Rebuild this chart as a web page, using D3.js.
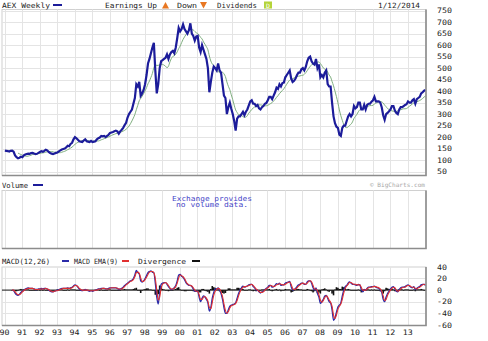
<!DOCTYPE html>
<html><head><meta charset="utf-8">
<script src="https://cdn.jsdelivr.net/npm/d3@7"></script>
<style>
body{margin:0;background:#fff}
svg{display:block}
text{font-family:"DejaVu Sans Mono",monospace;}
</style>
</head><body>
<svg id="c" width="488" height="341"></svg>
<script>
// ---------- data (monthly, Jan 1990 .. Jan 2014) ----------
const startYear = 1990;
const yearLabels = ["90","91","92","93","94","95","96","97","98","99","00","01","02","03","04","05","06","07","08","09","10","11","12","13"];
const priceTicks = [750,700,650,600,550,500,450,400,350,300,250,200,150,100,50];
const macdTicks = [40,20,0,-20,-40,-60];

const price = [
141,140,139,137,140,141,136,120,112,108,110,114,
112,120,124,126,128,127,130,131,128,126,127,131,
135,138,136,140,145,142,135,130,128,126,128,131,
133,138,142,146,148,150,155,162,160,170,175,190,
200,195,188,182,180,178,185,190,182,180,178,183,
178,180,182,190,195,198,205,203,205,200,205,210,
218,220,222,225,228,225,215,225,232,240,252,262,
285,300,310,320,345,370,430,420,440,380,390,405,
430,470,520,540,565,590,610,490,390,430,500,530,
535,540,545,560,540,560,570,575,565,590,630,675,
660,670,690,670,660,650,665,695,650,640,620,637,
640,590,570,600,580,560,540,500,395,440,480,507,
500,490,520,490,480,430,380,370,300,330,350,323,
300,270,228,280,290,290,300,310,295,310,320,338,
355,360,345,345,335,340,325,320,330,335,345,348,
360,375,375,365,380,395,415,410,430,420,435,437,
460,470,480,490,455,440,445,455,470,480,480,495,
500,490,505,530,545,550,530,520,515,540,500,516,
460,470,460,480,490,430,420,420,350,290,260,245,
240,210,205,240,250,250,270,290,300,290,300,335,
325,330,350,350,320,320,340,320,340,345,345,354,
360,375,355,355,355,350,330,295,275,300,305,312,
320,335,335,315,305,300,320,330,330,335,340,343,
355,350,350,360,365,345,365,370,375,390,395,402,
405];

const movingAvg = [
null,null,null,null,null,null,null,null,null,130,127,124,
121,119,117,116,117,119,121,124,125,127,127,128,
129,130,131,132,134,136,137,137,137,136,134,134,
133,132,132,134,136,138,141,145,148,152,156,162,
168,173,177,180,182,184,186,188,187,184,183,182,
182,182,182,183,183,185,188,190,193,195,198,201,
204,207,210,212,215,217,219,221,223,226,229,234,
240,248,258,270,283,298,319,338,358,368,378,389,
401,415,432,444,460,477,502,513,512,512,515,516,
516,513,508,502,508,527,542,551,554,561,571,585,
596,611,625,636,646,655,663,671,668,666,660,654,
651,643,634,627,614,604,593,580,553,531,518,511,
500,490,486,480,478,482,475,463,440,421,406,384,
363,339,318,307,298,297,294,289,286,287,293,304,
312,320,326,331,334,339,340,340,339,337,336,336,
338,342,346,350,357,364,373,380,389,396,403,410,
420,430,440,448,453,454,457,459,463,465,466,468,
469,473,480,489,499,508,514,518,521,525,526,527,
520,511,501,496,492,483,470,461,442,423,400,376,
349,318,293,273,254,243,241,244,251,256,266,281,
290,299,310,319,322,324,330,332,333,335,337,337,
338,344,348,350,354,355,353,348,339,332,324,320,
316,314,312,310,311,314,316,319,321,323,323,324,
329,334,339,344,348,349,353,356,359,363,368,374,
379];

const macd = [
null,null,null,null,null,0,-1,-5,-8,-9,-7,-4,
-2,0,2,3,4,3,3,3,2,1,1,2,
2,3,2,3,3,2,0,-2,-3,-3,-2,-1,
0,1,2,3,3,3,3,4,3,4,5,7,
9,8,5,2,0,-1,0,1,0,-1,-2,-1,
-2,-1,0,1,2,2,3,3,3,2,2,3,
4,4,4,4,4,3,1,2,3,5,8,10,
12,14,16,17,20,26,34,30,28,16,14,16,
20,25,30,32,33,31,30,12,-12,-24,-4,10,
12,13,13,10,6,3,1,2,4,8,16,26,
27,24,22,18,13,10,8,8,6,2,-2,-2,
-2,-12,-20,-14,-10,-12,-16,-22,-36,-30,-14,-4,
2,2,4,0,-6,-16,-30,-40,-40,-34,-28,-26,
-25,-24,-22,-14,-6,0,4,7,5,6,7,9,
10,10,6,4,0,0,-3,-5,-3,-2,1,3,
5,8,8,5,6,8,11,10,12,8,9,9,
12,13,14,15,6,0,1,3,6,9,10,12,
12,10,10,14,16,16,12,4,0,4,-6,-12,
-23,-20,-16,-10,-9,-14,-20,-22,-34,-52,-48,-38,
-29,-26,-22,-10,0,6,8,12,14,12,10,10,
9,8,10,9,1,-3,1,0,3,5,5,6,
6,7,5,4,3,0,-4,-16,-20,-12,-6,-2,
2,5,6,2,-2,-3,1,4,5,5,6,8,
9,7,5,4,6,1,3,5,6,9,10,10,
8];

const macdEma = [
null,null,null,null,null,0,0,-3,-6,-8,-8,-6,
-3,-1,1,2,3,3,3,3,2,1,1,1,
2,2,2,2,3,2,1,-1,-2,-3,-2,-1,
-1,0,1,2,3,3,3,3,3,3,4,6,
8,8,6,3,1,0,0,0,0,0,-1,-1,
-1,-1,0,0,1,2,2,3,3,2,2,2,
3,4,4,4,4,3,2,2,2,4,6,9,
11,13,15,16,18,23,30,31,29,21,15,15,
18,22,27,31,32,32,30,20,0,-17,-12,3,
10,12,13,11,8,4,2,2,3,6,12,21,
26,25,23,20,15,11,9,8,7,4,0,-2,
-2,-8,-16,-16,-12,-11,-14,-19,-30,-32,-21,-9,
-2,1,3,2,-3,-11,-24,-35,-40,-37,-31,-27,
-26,-25,-23,-18,-10,-3,2,5,6,6,7,8,
9,10,8,5,2,0,-2,-4,-4,-3,0,2,
4,6,8,7,6,7,9,10,11,10,9,9,
10,12,13,14,10,3,1,2,4,7,9,11,
12,11,10,12,15,16,14,8,2,2,-1,-8,
-17,-21,-18,-13,-10,-12,-17,-21,-28,-43,-49,-43,
-33,-28,-24,-16,-5,3,7,10,13,13,11,10,
10,9,9,9,5,0,0,0,2,4,5,5,
6,6,6,5,4,2,-2,-10,-18,-16,-9,-4,
0,3,5,4,0,-2,-1,2,4,5,5,7,
8,8,6,5,5,3,2,4,5,7,9,10,
9];

const divergence = [
null,null,null,null,null,0,-1,-2,-2,-1,1,2,
1,1,1,1,1,0,0,0,0,0,0,1,
0,1,0,1,0,0,-1,-1,-1,0,0,0,
1,1,1,1,0,0,0,1,0,1,1,1,
1,0,-1,-1,-1,-1,0,1,0,-1,-1,0,
-1,0,0,1,1,0,1,0,0,0,0,1,
1,0,0,0,0,0,-1,0,1,1,2,1,
1,1,1,1,2,3,4,-1,-1,-5,-1,1,
2,3,3,1,1,-1,0,-8,-12,-7,8,7,
2,1,0,-1,-2,-1,-1,0,1,2,4,5,
1,-1,-1,-2,-2,-1,-1,0,-1,-2,-2,0,
0,-4,-4,2,2,-1,-2,-3,-6,2,7,5,
4,1,1,-2,-3,-5,-6,-5,0,3,3,1,
1,1,1,4,4,3,2,2,-1,0,0,1,
1,0,-2,-1,-2,0,-1,-1,1,1,1,1,
1,2,0,-2,0,1,2,0,1,-2,0,0,
2,1,1,1,-4,-3,0,1,2,2,1,1,
0,-1,0,2,1,0,-2,-4,-2,2,-5,-4,
-6,1,2,3,1,-2,-3,-1,-6,-9,1,5,
4,2,2,6,5,3,1,2,1,-1,-1,0,
-1,-1,1,0,-4,-3,1,0,1,1,0,1,
0,1,-1,-1,-1,-2,-2,-6,-2,4,3,2,
2,2,1,-2,-2,-1,2,2,1,0,1,1,
1,-1,-1,-1,1,-2,1,1,1,2,1,0,
-1];

// ---------- layout ----------
const svg = d3.select("#c");
const L = 2, R = 426;
const x = d3.scaleLinear().domain([startYear, startYear + 24]).range([4.5, 425.2]);
const tOf = i => startYear + i / 12 + 0.02;

const main = {top: 9.5, bottom: 175.5};
const vol = {top: 190.5, bottom: 248.5};
const mac = {top: 267, bottom: 325.5};

const yP = d3.scaleLinear().domain([50, 750]).range([171.5, 10.7]);
const yM = d3.scaleLinear().domain([-60, 40]).range([324.9, 266.9]);

const gridCol = "#e4e4e4";
const navy = "#1c1c9a";

function panel(p, id) {
  svg.append("rect").attr("x", L).attr("y", p.top).attr("width", R - L).attr("height", p.bottom - p.top)
    .attr("fill", "#fff").attr("stroke", "#d0d0d0").attr("stroke-width", 1);
  svg.append("clipPath").attr("id", id).append("rect")
    .attr("x", L).attr("y", p.top).attr("width", R - L).attr("height", p.bottom - p.top);
  yearLabels.forEach((lab, k) => {
    const xx = Math.round(x(startYear + k)) + 0.5;
    if (xx > L + 1 && xx < R - 1)
      svg.append("line").attr("x1", xx).attr("x2", xx).attr("y1", p.top).attr("y2", p.bottom)
        .attr("stroke", gridCol).attr("stroke-width", 1);
  });
}
function frame(p) {
  svg.append("path").attr("d", `M${R},${p.top}V${p.bottom}H${L}`)
    .attr("fill", "none").attr("stroke", "#8c8c8c").attr("stroke-width", 1.6);
}

// ----- main panel -----
panel(main, "clipMain");
priceTicks.forEach(v => {
  const yy = Math.round(yP(v)) + 0.5;
  if (yy > main.top + 1 && yy < main.bottom - 1)
    svg.append("line").attr("x1", L).attr("x2", R).attr("y1", yy).attr("y2", yy)
      .attr("stroke", gridCol).attr("stroke-width", 1);
});
const gMain = svg.append("g").attr("clip-path", "url(#clipMain)");
gMain.append("path").datum(movingAvg)
  .attr("d", d3.line().defined(d => d != null).x((d, i) => x(tOf(i))).y(d => yP(d)).curve(d3.curveMonotoneX))
  .attr("fill", "none").attr("stroke", "#7fae7f").attr("stroke-width", 1);
gMain.append("path").datum(price)
  .attr("d", d3.line().x((d, i) => x(tOf(i))).y(d => yP(d)))
  .attr("fill", "none").attr("stroke", navy).attr("stroke-width", 2.2).attr("stroke-linejoin", "miter");
frame(main);
priceTicks.forEach(v => {
  svg.append("text").attr("x", 437).attr("y", yP(v)).attr("dy", "0.35em")
    .attr("font-size", 7.5).attr("fill", "#222").attr("textLength", String(v).length * 5)
    .attr("lengthAdjust", "spacingAndGlyphs").text(v);
});

// header
function txt(s, x0, y0, w, opt = {}) {
  const t = svg.append("text").attr("x", x0).attr("y", y0).attr("font-size", opt.size || 7.2)
    .attr("fill", opt.fill || "#222").text(s);
  if (w) t.attr("textLength", w).attr("lengthAdjust", "spacingAndGlyphs");
  if (opt.anchor) t.attr("text-anchor", opt.anchor);
  return t;
}
function swatch(x1, x2, yy, col) {
  svg.append("line").attr("x1", x1).attr("x2", x2).attr("y1", yy).attr("y2", yy)
    .attr("stroke", col).attr("stroke-width", 2);
}
txt("AEX Weekly", 2, 7.6, 48);
swatch(53, 62, 5, navy);
txt("Earnings Up", 105, 7.6, 52);
svg.append("path").attr("d", "M162,8.5L165.5,2L169,8.5Z").attr("fill", "#e87722");
txt("Down", 177, 7.6, 20);
svg.append("path").attr("d", "M200,2L207,2L203.5,8.5Z").attr("fill", "#e87722");
txt("Dividends", 217, 7.6, 40);
svg.append("rect").attr("x", 264).attr("y", 1.5).attr("width", 8).attr("height", 7).attr("fill", "#b4d43a");
txt("D", 266, 7.6, 4, {fill: "#fff", size: 6});
txt("1/12/2014", 378, 7.6, 42);

// ----- volume panel -----
panel(vol, "clipVol");
frame(vol);
txt("Volume", 2, 187.5, 26);
swatch(33, 43, 185, navy);
txt("\u00A9 BigCharts.com", 425, 187, 55, {anchor: "end", fill: "#a8a8a8", size: 6});
txt("Exchange provides", 212, 200.5, 80, {anchor: "middle", fill: "#4545c8", size: 7});
txt("no volume data.", 212, 207, 72, {anchor: "middle", fill: "#4545c8", size: 7});

// ----- MACD panel -----
panel(mac, "clipMac");
macdTicks.forEach(v => {
  const yy = Math.round(yM(v)) + 0.5;
  if (yy > mac.top + 1 && yy < mac.bottom - 1 && v !== 0)
    svg.append("line").attr("x1", L).attr("x2", R).attr("y1", yy).attr("y2", yy)
      .attr("stroke", gridCol).attr("stroke-width", 1);
});
const gMac = svg.append("g").attr("clip-path", "url(#clipMac)");
gMac.selectAll("rect.dv").data(divergence.map((d, i) => ({d, i})).filter(o => o.d != null))
  .enter().append("rect").attr("class", "dv")
  .attr("x", o => x(tOf(o.i)) - 0.8).attr("width", 1.6)
  .attr("y", o => Math.min(yM(o.d), yM(0))).attr("height", o => Math.max(0.6, Math.abs(yM(o.d) - yM(0))))
  .attr("fill", "#111");
gMac.append("line").attr("x1", L).attr("x2", R).attr("y1", yM(0)).attr("y2", yM(0))
  .attr("stroke", "#111").attr("stroke-width", 1);
const ml = d3.line().defined(d => d != null).x((d, i) => x(tOf(i))).y(d => yM(d)).curve(d3.curveMonotoneX);
gMac.append("path").datum(macd).attr("d", ml).attr("fill", "none").attr("stroke", "#2a2aa8").attr("stroke-width", 1.3);
gMac.append("path").datum(macdEma).attr("d", ml).attr("fill", "none").attr("stroke", "#e03030").attr("stroke-width", 1.1);
frame(mac);
macdTicks.forEach(v => {
  svg.append("text").attr("x", 437).attr("y", yM(v)).attr("dy", "0.35em")
    .attr("font-size", 7.5).attr("fill", "#222").attr("textLength", String(v).length * 5)
    .attr("lengthAdjust", "spacingAndGlyphs").text(v);
});
txt("MACD(12,26)", 2, 263.5, 48);
swatch(62, 69, 261, "#2a2aa8");
txt("MACD EMA(9)", 74, 263.5, 44);
swatch(122, 129, 261, "#e03030");
txt("Divergence", 138, 263.5, 48);
swatch(192, 200, 261, "#111");

// x-axis labels
yearLabels.forEach((lab, k) => {
  svg.append("text").attr("x", x(startYear + k)).attr("y", 334.5).attr("text-anchor", "middle")
    .attr("font-size", 7.5).attr("fill", "#222").attr("textLength", 10)
    .attr("lengthAdjust", "spacingAndGlyphs").text(lab);
});
</script>
</body></html>
